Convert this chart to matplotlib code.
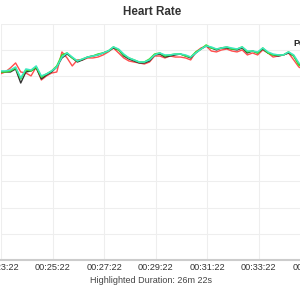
import numpy as np
import matplotlib.pyplot as plt
from matplotlib.ticker import FuncFormatter, FixedLocator, MultipleLocator

# Heart rate samples (bpm), one every 12 s starting at 00:23:20
t_start = 1400
t_step = 12
hr_raw = [141.9, 143.4, 146.5, 150.3, 143.4, 142.6, 140.4, 147.2, 137.3, 140.4,
          142.6, 143.4, 158.7, 154.1, 148.0, 152.6, 152.6, 154.1, 154.1, 154.8,
          156.4, 158.7, 161.7, 157.9, 154.1, 151.8, 151.0, 150.3, 149.5, 151.0,
          155.6, 155.6, 154.1, 155.6, 154.8, 154.8, 154.1, 152.6, 158.7, 161.7,
          163.2, 159.4, 158.7, 160.2, 160.9, 159.4, 158.7, 160.2, 156.4, 157.9,
          156.4, 160.2, 157.9, 154.8, 155.6, 156.4, 157.9, 152.6, 147.2, 144.9]
hr_black = [143.4, 143.4, 143.4, 145.7, 135.0, 143.4, 144.2, 146.5, 138.1, 141.1,
            143.4, 147.2, 154.1, 157.1, 154.1, 151.0, 152.6, 154.8, 155.6, 156.4,
            157.9, 159.4, 161.7, 160.2, 155.6, 153.3, 151.8, 150.3, 150.3, 151.8,
            156.4, 157.1, 154.8, 155.6, 156.4, 157.1, 155.6, 154.1, 157.9, 160.9,
            163.2, 161.7, 160.2, 161.7, 161.7, 160.9, 160.2, 161.7, 157.9, 159.4,
            157.9, 160.9, 157.9, 156.4, 155.6, 156.4, 157.9, 155.6, 149.5, 147.2]
hr_green = [143.4, 143.4, 144.2, 146.5, 138.1, 144.9, 144.2, 147.2, 139.6, 141.9,
            144.2, 148.0, 156.4, 157.9, 154.1, 151.8, 153.3, 154.8, 155.6, 157.1,
            157.9, 159.4, 162.5, 160.2, 156.4, 154.1, 152.6, 151.0, 151.0, 153.3,
            157.1, 157.9, 155.6, 156.4, 157.1, 157.1, 155.6, 154.8, 158.7, 160.9,
            164.0, 161.7, 160.9, 161.7, 162.5, 160.9, 160.9, 162.5, 158.7, 159.4,
            157.9, 161.7, 157.9, 156.4, 156.4, 156.4, 158.7, 155.6, 148.7, 146.5]
hr_cyan = [144.2, 144.2, 144.9, 147.2, 138.8, 145.7, 144.9, 148.0, 140.4, 141.9,
           144.2, 147.2, 154.8, 157.9, 154.8, 151.8, 153.3, 154.8, 155.6, 156.4,
           157.9, 159.4, 162.5, 160.9, 157.1, 154.1, 152.6, 151.0, 151.0, 152.6,
           156.4, 157.9, 156.4, 156.4, 157.1, 157.1, 156.4, 154.8, 157.9, 160.9,
           163.2, 162.5, 160.9, 161.7, 162.5, 161.7, 160.9, 162.5, 159.4, 159.4,
           158.7, 161.7, 158.7, 157.1, 156.4, 156.4, 158.7, 156.4, 150.3, 147.2]

times = t_start + t_step * np.arange(len(hr_green))

tick_start = 1402  # 00:23:22
tick_every = 120
n_ticks = 8
duration_text = 'Highlighted Duration: 26m 22s'

plt.rcParams['font.family'] = ['Liberation Sans', 'DejaVu Sans']

fig = plt.figure(figsize=(3, 3), dpi=100)
# axes run past the right edge of the figure (the picture is a crop)
ax = fig.add_axes([1 / 300, 40 / 300, 1.2017, 236 / 300])

ax.plot(times, hr_raw, color='#ff4d4d', lw=1.0)
ax.plot(times, hr_black, color='#333333', lw=1.0)
ax.plot(times, hr_green, color='#3ddc2a', lw=1.1)
ax.plot(times, hr_cyan, color='#3de8c0', lw=1.1)

ax.set_xlim(tick_start, tick_start + 840)
ax.set_ylim(0, 180)
ax.xaxis.set_major_locator(FixedLocator([tick_start + tick_every * k for k in range(n_ticks)]))
ax.yaxis.set_major_locator(MultipleLocator(20))


def hms(v, pos):
    v = int(round(v))
    return f'{v // 3600:02d}:{v % 3600 // 60:02d}:{v % 60:02d}'


ax.xaxis.set_major_formatter(FuncFormatter(hms))
ax.set_yticklabels([])
ax.tick_params(axis='x', length=0, labelsize=6.6, labelcolor='#333333', pad=2)
ax.tick_params(axis='y', length=0)

ax.grid(True, color='#eeeeee', lw=0.8)
ax.set_axisbelow(True)
for side in ['top', 'right', 'left']:
    ax.spines[side].set_visible(False)
ax.spines['bottom'].set_color('#cccccc')
ax.spines['bottom'].set_linewidth(1.5)

fig.text(0.507, 1 - 12 / 300, 'Heart Rate', ha='center', va='center',
         fontsize=8.4, fontweight='bold', color='#333333')
fig.text(0.505, 1 - 280.5 / 300, duration_text, ha='center', va='center',
         fontsize=6.5, color='#444444')
fig.text(293 / 300, 1 - 43 / 300, 'Peak', ha='left', va='center',
         fontsize=6.5, fontweight='bold', color='#222222')

fig.savefig('out.png', dpi=100)
